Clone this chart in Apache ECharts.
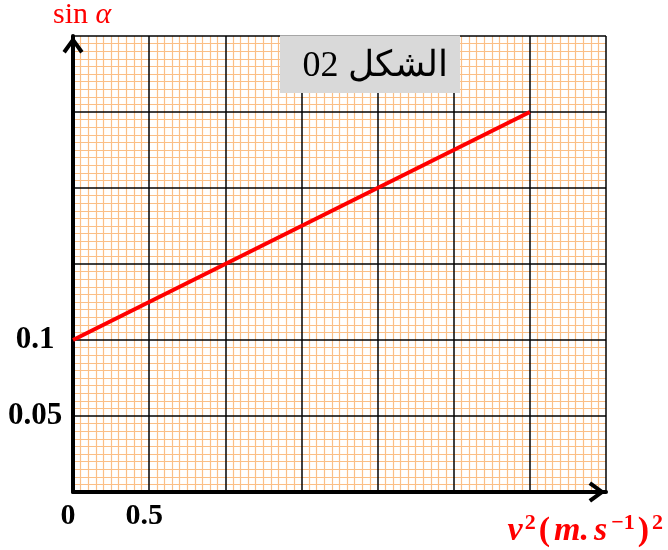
<!DOCTYPE html>
<html>
<head>
<meta charset="utf-8">
<script src="https://cdn.jsdelivr.net/npm/echarts@6/dist/echarts.min.js"></script>
<style>
  html, body { margin: 0; padding: 0; background: #fff; }
  #main { width: 668px; height: 550px; }
</style>
</head>
<body>
<div id="main"></div>
<script>
// data
var vSquared = [0, 3];
var sinAlpha = [0.1, 0.25];
var xTickLabels = ['0', '0.5'];
var yTickLabels = ['0.05', '0.1'];

var serif = '"Liberation Serif", "Times New Roman", serif';
var red = '#ff0000';
var minorColor = '#fbbf86';
// open chevron, drawn pointing up (ECharts turns it along the axis)
var chevron = 'path://M11 0 L22 15 L18.6 17.6 L11 7 L3.4 17.6 L0 15 Z';

var chart = echarts.init(document.getElementById('main'));

function xLabel(v) {
    var s = String(v);
    return xTickLabels.indexOf(s) >= 0 ? s : '';
}

function yLabel(v) {
    var s = String(Math.round(v * 100) / 100);
    return yTickLabels.indexOf(s) >= 0 ? s : '';
}

var axisArrowLine = {
    show: true,
    onZero: false,
    symbol: ['none', chevron],
    symbolSize: [21, 20],
    symbolOffset: [0, -9],
    lineStyle: { color: '#000', width: 4 }
};

var option = {
    animation: false,
    backgroundColor: '#fff',
    grid: {
        left: 73,
        top: 36,
        right: 62,
        bottom: 58,
        containLabel: false,
        outerBoundsMode: 'none'
    },
    xAxis: [
        {
            // orange graph-paper lines, below
            type: 'value', min: 0, max: 3.5, interval: 0.5,
            position: 'bottom', z: 0,
            axisLine: { show: false },
            axisTick: { show: false },
            axisLabel: { show: false },
            splitLine: { show: false },
            minorTick: { show: false, splitNumber: 10 },
            minorSplitLine: { show: true, lineStyle: { color: minorColor, width: 1.2 } }
        },
        {
            type: 'value', min: 0, max: 3.5, interval: 0.5,
            position: 'bottom', z: 2,
            name: '{v|v}{sup|2}{t|(}{b|m.}{b|s}{sup|\u22121}{t|)}{sup|2}',
            nameLocation: 'end',
            nameGap: 58,
            nameTextStyle: {
                align: 'right',
                verticalAlign: 'top',
                padding: [20, 0, 0, 0],
                rich: {
                    v: { fontFamily: serif, fontSize: 34, fontWeight: 'bold', fontStyle: 'italic', color: red, padding: [0, 1, 0, 0] },
                    b: { fontFamily: serif, fontSize: 34, fontWeight: 'bold', fontStyle: 'italic', color: red, padding: [0, 3, 0, 2] },
                    t: { fontFamily: serif, fontSize: 34, fontWeight: 'bold', color: red, padding: [0, 2, 0, 2] },
                    sup: { fontFamily: serif, fontSize: 22, fontWeight: 'bold', color: red, padding: [0, 1, 16, 1] }
                }
            },
            axisLine: axisArrowLine,
            axisTick: { show: false },
            axisLabel: {
                margin: 9,
                padding: [0, 10, 0, 0],
                fontFamily: serif,
                fontSize: 30,
                fontWeight: 'bold',
                color: '#000',
                formatter: xLabel
            },
            splitLine: { show: true, lineStyle: { color: '#000', width: 1.5 } }
        }
    ],
    yAxis: [
        {
            type: 'value', min: 0, max: 0.3, interval: 0.05,
            position: 'left', z: 0,
            axisLine: { show: false },
            axisTick: { show: false },
            axisLabel: { show: false },
            splitLine: { show: false },
            minorTick: { show: false, splitNumber: 10 },
            minorSplitLine: { show: true, lineStyle: { color: minorColor, width: 1.2 } }
        },
        {
            type: 'value', min: 0, max: 0.3, interval: 0.05,
            position: 'left', z: 2,
            name: '{s|sin }{a|\u03b1}',
            nameLocation: 'end',
            nameGap: 6,
            nameTextStyle: {
                align: 'left',
                padding: [0, 0, 0, -20],
                rich: {
                    s: { fontFamily: serif, fontSize: 30, color: red },
                    a: { fontFamily: serif, fontSize: 30, fontStyle: 'italic', color: red }
                }
            },
            axisLine: axisArrowLine,
            axisTick: { show: false },
            axisLabel: {
                margin: 38,
                align: 'center',
                fontFamily: serif,
                fontSize: 31,
                fontWeight: 'bold',
                color: '#000',
                formatter: yLabel
            },
            splitLine: { show: true, lineStyle: { color: '#000', width: 1.5 } }
        }
    ],
    graphic: [
        {
            type: 'rect',
            x: 280,
            y: 35,
            z: 100,
            shape: { x: 0, y: 0, width: 180, height: 58 },
            style: { fill: '#d9d9d9' }
        },
        {
            type: 'line',
            x: 280,
            y: 35,
            z: 101,
            shape: { x1: 0, y1: 0.5, x2: 180, y2: 0.5 },
            style: { stroke: '#a6a6a6', lineWidth: 1 }
        },
        {
            type: 'text',
            x: 375,
            y: 67,
            z: 102,
            style: {
                text: '\u202B\u0627\u0644\u0634\u0643\u0644 02\u202C',
                fontFamily: serif,
                fontSize: 36,
                fill: '#000',
                align: 'center',
                verticalAlign: 'middle'
            }
        }
    ],
    series: [
        {
            type: 'line',
            xAxisIndex: 1,
            yAxisIndex: 1,
            data: vSquared.map(function (x, i) { return [x, sinAlpha[i]]; }),
            showSymbol: false,
            lineStyle: { color: red, width: 4 },
            z: 10
        }
    ]
};

chart.setOption(option);
</script>
</body>
</html>
